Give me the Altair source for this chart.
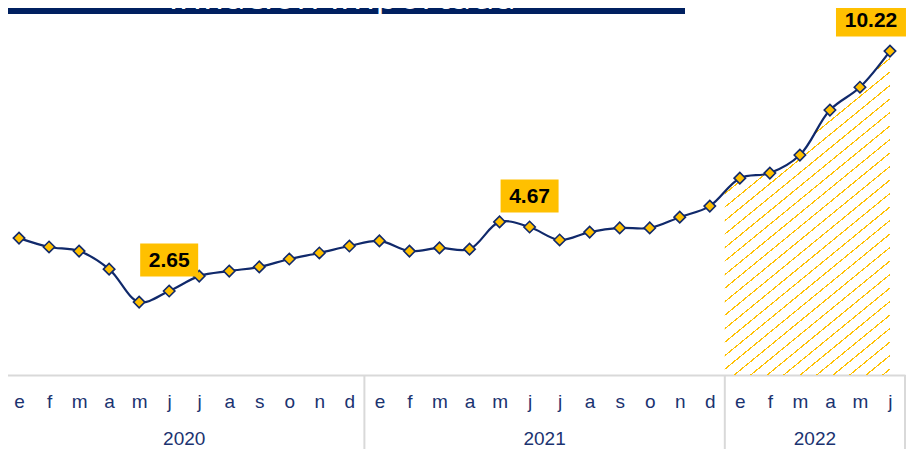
import json
import altair as alt
import pandas as pd

# ---- data ----
months = ['e', 'f', 'm', 'a', 'm', 'j', 'j', 'a', 's', 'o', 'n', 'd']
years = [2020, 2021, 2022]
months_per_year = [12, 12, 6]
values = [4.32, 4.04, 3.91, 3.34, 2.30, 2.65, 3.12, 3.28, 3.41, 3.66, 3.85, 4.07,
          4.23, 3.91, 4.01, 3.97, 4.83, 4.67, 4.26, 4.51, 4.64, 4.64, 4.98, 5.33,
          6.21, 6.37, 6.94, 8.36, 9.08, 10.22]
labelled_idx = [5, 17, 29]          # June of each year
hatch_year = 2022
title = "Inflación Importada"

# ---- styles ----
NAVY = "#10296B"
TEXT_NAVY = "#1B3370"
GOLD = "#FFC000"
GRID = "#D9D9D9"
FONT = "Liberation Sans"

rows = []
k = 0
for yr, n in zip(years, months_per_year):
    for m in range(n):
        rows.append({"i": k, "v": values[k], "mes": months[m], "anio": yr})
        k += 1
df = pd.DataFrame(rows)

# year boxes: boundaries and centres derived from month counts
bounds = [-0.5]
centres = []
start = 0
for n in months_per_year:
    centres.append(start + (n - 1) / 2)
    start += n
    bounds.append(start - 0.5)
years_df = pd.DataFrame({"c": centres, "anio": [str(y) for y in years]})
bounds_df = pd.DataFrame({"b": bounds})

# hatched area for the last year (starting at the boundary with the previous year)
first = df.index[df["anio"] == hatch_year][0]
edge_v = (df.loc[first - 1, "v"] + df.loc[first, "v"]) / 2
hatch_df = pd.concat([pd.DataFrame({"i": [first - 0.5], "v": [edge_v]}),
                      df.loc[df["anio"] == hatch_year, ["i", "v"]]], ignore_index=True)

lab_df = df.loc[labelled_idx].copy()
lab_df["txt"] = lab_df["v"].map(lambda x: f"{x:.2f}")

xs = alt.Scale(domain=[-0.5, 29.5], range=[-4, 897], nice=False, zero=False)
ys = alt.Scale(domain=[0, 11.58], nice=False, zero=False)
x_axis = alt.Axis(values=list(range(len(values))),
                  labelExpr=f"{json.dumps(months)}[datum.value % 12]",
                  ticks=False, tickSize=0, grid=False, domainColor=GRID, domainWidth=2,
                  labelFontSize=19, labelColor=TEXT_NAVY, labelFont=FONT,
                  labelPadding=32, labelBaseline="alphabetic", labelFlush=False,
                  labelOverlap=False, title=None)


def X(field):
    return alt.X(f"{field}:Q", scale=xs, axis=x_axis)


Y = alt.Y("v:Q", scale=ys, axis=None)

# diagonal hatch pattern built as a hard-stop gradient
n_stripes = 34
duty = 0.11
stops = [alt.GradientStop(offset=0, color="rgba(255,255,255,0)")]
for s in range(n_stripes):
    a = (s + 0.5) / n_stripes
    b = a + duty / n_stripes
    stops += [alt.GradientStop(offset=a, color="rgba(255,255,255,0)"),
              alt.GradientStop(offset=a, color=GOLD),
              alt.GradientStop(offset=b, color=GOLD),
              alt.GradientStop(offset=b, color="rgba(255,255,255,0)")]
stops.append(alt.GradientStop(offset=1, color="rgba(255,255,255,0)"))
hatch_grad = alt.Gradient(gradient="linear", stops=stops, x1=0, y1=0, x2=0.504, y2=1.207)

hatch = alt.Chart(hatch_df).mark_area(fill=hatch_grad, interpolate="catmull-rom").encode(
    x=X("i"), y=Y, y2=alt.datum(0))

line = alt.Chart(df).mark_line(color=NAVY, strokeWidth=2.2, interpolate="catmull-rom").encode(
    x=X("i"), y=Y)

points = alt.Chart(df).mark_point(shape="diamond", filled=True, fill=GOLD, stroke=NAVY,
                                  strokeWidth=1.6, size=130, opacity=1).encode(x=X("i"), y=Y)

# labels: the one at the right edge is nudged left so it stays inside the chart
box_small = alt.Chart(lab_df).transform_filter("datum.v < 10").mark_rect(
    color=GOLD, width=58, height=33, yOffset=-31).encode(x=X("i"), y=Y)
box_big = alt.Chart(lab_df).transform_filter("datum.v >= 10").mark_rect(
    color=GOLD, width=70, height=33, yOffset=-31, xOffset=-19).encode(x=X("i"), y=Y)
text_small = alt.Chart(lab_df).transform_filter("datum.v < 10").mark_text(
    font=FONT, fontSize=21, fontWeight="bold", color="#000000",
    baseline="middle", yOffset=-30).encode(x=X("i"), y=Y, text="txt:N")
text_big = alt.Chart(lab_df).transform_filter("datum.v >= 10").mark_text(
    font=FONT, fontSize=21, fontWeight="bold", color="#000000",
    baseline="middle", yOffset=-30, xOffset=-19).encode(x=X("i"), y=Y, text="txt:N")

seps = alt.Chart(bounds_df).mark_rule(color=GRID, strokeWidth=2).encode(
    x=X("b"), y=alt.value(367), y2=alt.value(441))

year_text = alt.Chart(years_df).mark_text(font=FONT, fontSize=19, color=TEXT_NAVY,
                                          baseline="alphabetic").encode(
    x=X("c"), y=alt.value(437), text="anio:N")

title_df = pd.DataFrame({"t": [title]})
title_bar = alt.Chart(title_df).mark_rect(color="#002060").encode(
    x=alt.value(-8), x2=alt.value(677), y=alt.value(-8), y2=alt.value(6))
title_text = alt.Chart(title_df).mark_text(font="Open Sans", fontSize=38, color="white",
                                           baseline="alphabetic").encode(
    x=alt.value(334), y=alt.value(1), text="t:N")

chart = alt.layer(title_bar, title_text, hatch, seps, year_text, line, points,
                  box_small, box_big, text_small, text_big).properties(
    width=898, height=367,
    autosize=alt.AutoSizeParams(type="none"),
    padding={"left": 0, "top": 0, "right": 0, "bottom": 74},
).configure_view(strokeWidth=0)

chart.save("out.html", embed_options={"renderer": "svg", "actions": False})
